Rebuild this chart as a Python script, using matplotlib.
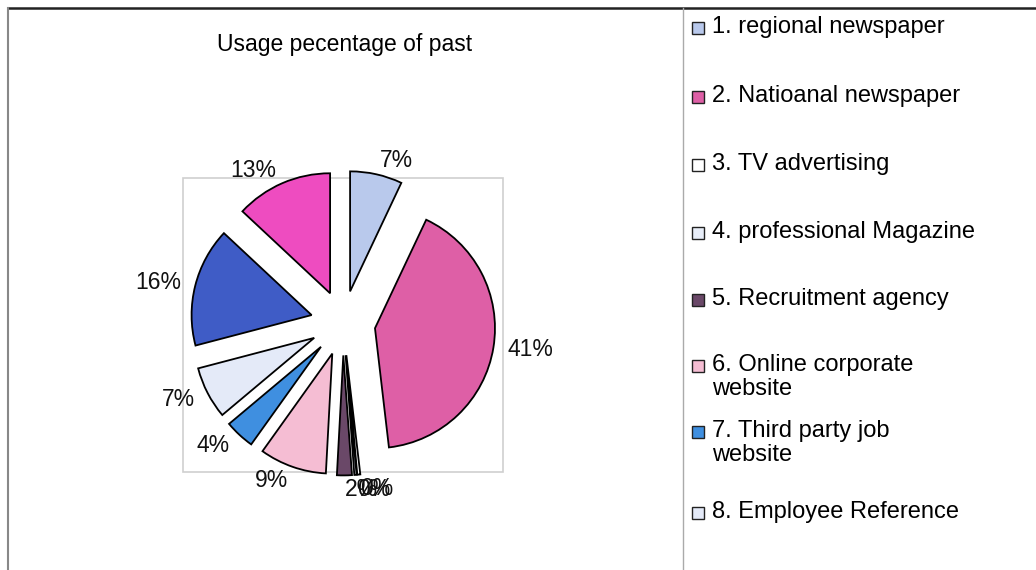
import matplotlib
matplotlib.use('Agg')
import matplotlib.pyplot as plt
from matplotlib.patches import Rectangle
from matplotlib.lines import Line2D

plt.rcParams['font.family'] = ['Liberation Sans', 'DejaVu Sans']

# slice values (clockwise from 12 o'clock), % of respondents
values = [7, 41, 0.4, 0.3, 2, 9, 4, 7, 16, 13]
colors = ['#b9c9ec', '#de5fa6', '#ffffff', '#e8eef9', '#6a4868',
          '#f5bdd3', '#3f8fe0', '#e4eaf8', '#3f5cc6', '#ee4cc0']
legend_labels = ['1. regional newspaper', '2. Natioanal newspaper',
                 '3. TV advertising', '4. professional Magazine',
                 '5. Recruitment agency', '6. Online corporate\nwebsite',
                 '7. Third party job\nwebsite', '8. Employee Reference']
title = 'Usage pecentage of past'

W, H = 1036, 570
fig = plt.figure(figsize=(W / 100, H / 100), dpi=100)

# pie axes: 1 data unit = 120 px, centred on (343, 323) px from top-left
R = 120
cx, cy = 343, 323
half = 1.7
ax = fig.add_axes([(cx - half * R) / W, (H - cy - half * R) / H,
                   2 * half * R / W, 2 * half * R / H])
pct = ['%d%%' % round(v) for v in values]
wedges, texts = ax.pie(values, colors=colors, labels=pct, startangle=90,
                       counterclock=False, explode=[0.27] * len(values),
                       labeldistance=1.12,
                       wedgeprops=dict(edgecolor='black', linewidth=1.3),
                       textprops=dict(fontsize=16.5, color='#111111'))
ax.set_xlim(-half, half)
ax.set_ylim(-half, half)
ax.set_aspect('equal')
ax.axis('off')

# plot-area box
x0, x1 = (183 - cx) / R, (503 - cx) / R
y0, y1 = (cy - 472) / R, (cy - 178) / R
ax.add_patch(Rectangle((x0, y0), x1 - x0, y1 - y0, fill=False,
                       edgecolor='#cfcfcf', linewidth=1.2, zorder=0))

fig.text(345 / W, 1 - 45 / H, title, ha='center', va='center', fontsize=16.5)

# frame lines
fig.add_artist(Line2D([8 / W, 1], [1 - 8 / H] * 2, color='#222222', lw=1.8))
fig.add_artist(Line2D([8 / W] * 2, [0, 1 - 8 / H], color='#888888', lw=1.5))
fig.add_artist(Line2D([683 / W] * 2, [0, 1 - 8 / H], color='#aaaaaa', lw=1))

# legend
rows = [28, 97, 165, 233, 300, 366, 432, 513]
for lab, y, c in zip(legend_labels, rows, colors):
    fig.add_artist(Rectangle((692 / W, 1 - (y + 6) / H), 12 / W, 12 / H,
                             transform=fig.transFigure, facecolor=c,
                             edgecolor='#222222', lw=1))
    fig.text(712 / W, 1 - (y - 12) / H, lab, ha='left', va='top',
             fontsize=17, linespacing=1.1)

fig.savefig('out.png', dpi=100)
